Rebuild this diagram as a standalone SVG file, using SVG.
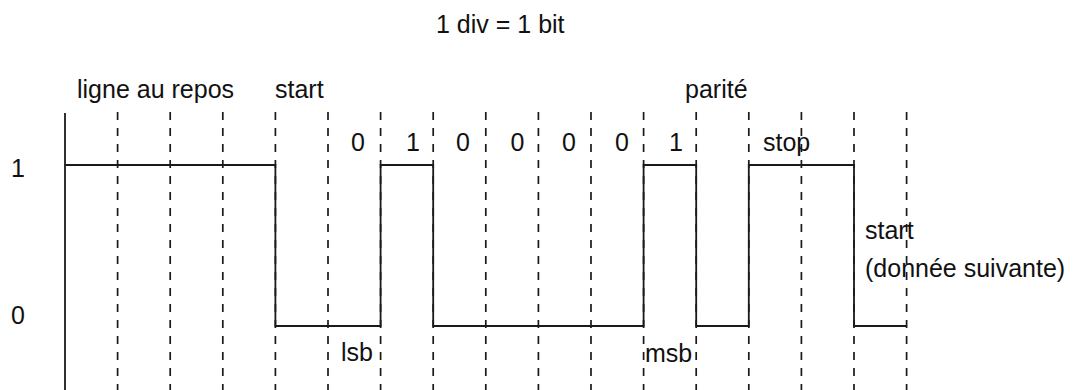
<svg xmlns="http://www.w3.org/2000/svg" width="1073" height="390" viewBox="0 0 1073 390">
<style>
.t{font-family:"Liberation Sans",Arial,sans-serif;font-size:25px;fill:#111}
.m{text-anchor:middle}
.grid line{stroke:#1a1a1a;stroke-width:1.7;stroke-dasharray:8 8}
.sig{fill:none;stroke:#1a1a1a;stroke-width:1.8;stroke-linejoin:miter}
</style>
<rect width="1073" height="390" fill="#fff"/>
<g id="grid" class="grid">
<line x1="117.6" y1="112" x2="117.6" y2="390"/>
<line x1="170.2" y1="112" x2="170.2" y2="390"/>
<line x1="222.8" y1="112" x2="222.8" y2="390"/>
<line x1="275.4" y1="112" x2="275.4" y2="390"/>
<line x1="328" y1="112" x2="328" y2="390"/>
<line x1="380.6" y1="112" x2="380.6" y2="390"/>
<line x1="433.2" y1="112" x2="433.2" y2="390"/>
<line x1="485.8" y1="112" x2="485.8" y2="390"/>
<line x1="538.4" y1="112" x2="538.4" y2="390"/>
<line x1="591" y1="112" x2="591" y2="390"/>
<line x1="643.6" y1="112" x2="643.6" y2="390"/>
<line x1="696.2" y1="112" x2="696.2" y2="390"/>
<line x1="748.8" y1="112" x2="748.8" y2="390"/>
<line x1="801.4" y1="112" x2="801.4" y2="390"/>
<line x1="854" y1="112" x2="854" y2="390"/>
<line x1="906.6" y1="112" x2="906.6" y2="390"/>
</g>
<g id="axis">
<line x1="65" y1="113" x2="65" y2="390" stroke="#1a1a1a" stroke-width="1.8"/>
</g>
<g id="signal">
<polyline class="sig" points="65,165 275.4,165 275.4,326 380.6,326 380.6,165 433.2,165 433.2,326 643.6,326 643.6,165 696.2,165 696.2,326 748.8,326 748.8,165 854,165 854,326 906.6,326"/>
</g>
<g id="labels">
<text class="t" x="436" y="33">1 div = 1 bit</text>
<text class="t" x="77" y="98">ligne au repos</text>
<text class="t" x="275" y="98">start</text>
<text class="t" x="685" y="98">parité</text>
<text class="t m" x="358" y="151">0</text>
<text class="t m" x="413" y="151">1</text>
<text class="t m" x="463" y="151">0</text>
<text class="t m" x="517.5" y="151">0</text>
<text class="t m" x="569" y="151">0</text>
<text class="t m" x="622" y="151">0</text>
<text class="t m" x="676" y="151">1</text>
<text class="t" x="763" y="151">stop</text>
<text class="t m" x="18" y="177">1</text>
<text class="t m" x="18" y="324">0</text>
<text class="t" x="865" y="239">start</text>
<text class="t" x="865" y="277">(donnée suivante)</text>
<text class="t" x="341" y="361">lsb</text>
<text class="t" x="645" y="362">msb</text>
</g>
</svg>
